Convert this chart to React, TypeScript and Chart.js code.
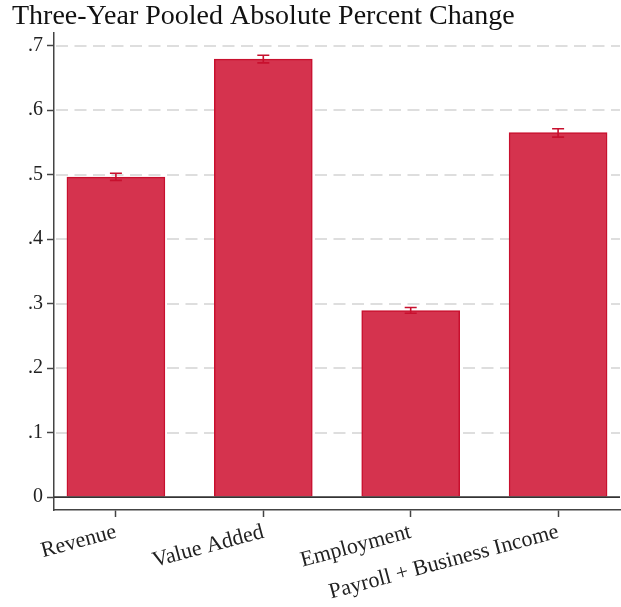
import React, { useEffect, useRef } from "react";
import { Chart, registerables } from "chart.js";

Chart.register(...registerables);

const categories = ["Revenue", "Value Added", "Employment", "Payroll + Business Income"];
const positions = [1, 2, 3, 4];
const values = [0.496, 0.679, 0.289, 0.565];
const lower = [0.491, 0.673, 0.285, 0.558];
const upper = [0.502, 0.685, 0.294, 0.571];
const yTicks = [0, 0.1, 0.2, 0.3, 0.4, 0.5, 0.6, 0.7];

const SERIF = "'Liberation Serif', 'Times New Roman', serif";
const BAR_FILL = "#D5334E";
const BAR_EDGE = "#C8102E";
const ERR_COLOR = "#C8102E";
const AXIS_COLOR = "#444444";

const extras = {
  id: "extras",
  beforeDatasetsDraw(chart: any) {
    const { ctx, chartArea, scales } = chart;
    const y = scales.y;
    ctx.save();
    ctx.strokeStyle = "#DEDEDE";
    ctx.lineWidth = 2;
    ctx.setLineDash([12, 6.5]);
    yTicks.forEach((v) => {
      if (v === 0) return;
      const py = Math.round(y.getPixelForValue(v));
      ctx.beginPath();
      ctx.moveTo(chartArea.left + 2, py);
      ctx.lineTo(chartArea.right, py);
      ctx.stroke();
    });
    ctx.restore();
  },
  afterDatasetsDraw(chart: any) {
    const { ctx, chartArea, scales } = chart;
    const x = scales.x;
    const y = scales.y;
    ctx.save();
    const y0 = y.getPixelForValue(0);
    ctx.strokeStyle = "#333333";
    ctx.lineWidth = 1.6;
    ctx.beginPath();
    ctx.moveTo(chartArea.left, y0);
    ctx.lineTo(chartArea.right, y0);
    ctx.stroke();
    ctx.strokeStyle = ERR_COLOR;
    ctx.lineWidth = 1.6;
    positions.forEach((p, i) => {
      const px = x.getPixelForValue(p);
      const yl = y.getPixelForValue(lower[i]);
      const yh = y.getPixelForValue(upper[i]);
      const cap = 6;
      ctx.beginPath();
      ctx.moveTo(px, yl);
      ctx.lineTo(px, yh);
      ctx.moveTo(px - cap, yl);
      ctx.lineTo(px + cap, yl);
      ctx.moveTo(px - cap, yh);
      ctx.lineTo(px + cap, yh);
      ctx.stroke();
    });
    ctx.restore();
  },
};

export default function App() {
  const ref = useRef<HTMLCanvasElement | null>(null);
  useEffect(() => {
    document.body.style.margin = "0";
    const canvas = ref.current;
    if (!canvas) return;
    const chart = new Chart(canvas, {
      type: "bar",
      data: {
        datasets: [
          {
            data: positions.map((p, i) => ({ x: p, y: values[i] })),
            backgroundColor: BAR_FILL,
            borderColor: BAR_EDGE,
            borderWidth: 1.5,
            barThickness: 98,
          },
        ],
      },
      plugins: [extras],
      options: {
        responsive: false,
        animation: false,
        devicePixelRatio: 1,
        layout: { padding: { left: 12, right: 1, top: 0, bottom: 0 } },
        plugins: {
          legend: { display: false },
          tooltip: { enabled: false },
          title: {
            display: true,
            text: "Three-Year Pooled Absolute Percent Change",
            align: "start",
            color: "#111111",
            font: { family: SERIF, size: 28, weight: "normal" },
            padding: { top: 0, bottom: -1 },
          },
        },
        scales: {
          x: {
            type: "linear",
            offset: false,
            min: 0.58,
            max: 4.42,
            afterBuildTicks: (s: any) => {
              s.ticks = positions.map((v) => ({ value: v }));
            },
            afterFit: (s: any) => {
              s.height = 97;
            },
            ticks: {
              autoSkip: false,
              minRotation: 15,
              maxRotation: 15,
              padding: 2,
              color: "#222222",
              font: { family: SERIF, size: 22 },
              callback: (v: any) => {
                const i = positions.indexOf(Number(v));
                return i >= 0 ? categories[i] : "";
              },
            },
            grid: {
              offset: false,
              drawOnChartArea: false,
              drawTicks: true,
              tickLength: 7,
              tickColor: AXIS_COLOR,
              tickWidth: 1.5,
            },
            border: { display: true, color: AXIS_COLOR, width: 1.5 },
          },
          y: {
            type: "linear",
            min: -0.02,
            max: 0.72,
            afterBuildTicks: (s: any) => {
              s.ticks = yTicks.map((v) => ({ value: v }));
            },
            afterFit: (s: any) => {
              s.width = 42;
            },
            ticks: {
              padding: 4,
              color: "#222222",
              font: { family: SERIF, size: 20 },
              callback: (v: any) => {
                const n = Number(v);
                if (Math.abs(n) < 1e-9) return "0";
                return n.toFixed(1).replace(/^0/, "");
              },
            },
            grid: {
              drawOnChartArea: false,
              drawTicks: true,
              tickLength: 7,
              tickColor: AXIS_COLOR,
              tickWidth: 1.5,
            },
            border: { display: true, color: AXIS_COLOR, width: 1.5 },
          },
        },
      },
    });
    return () => chart.destroy();
  }, []);
  return <canvas ref={ref} width={621} height={607} style={{ display: "block" }} />;
}
